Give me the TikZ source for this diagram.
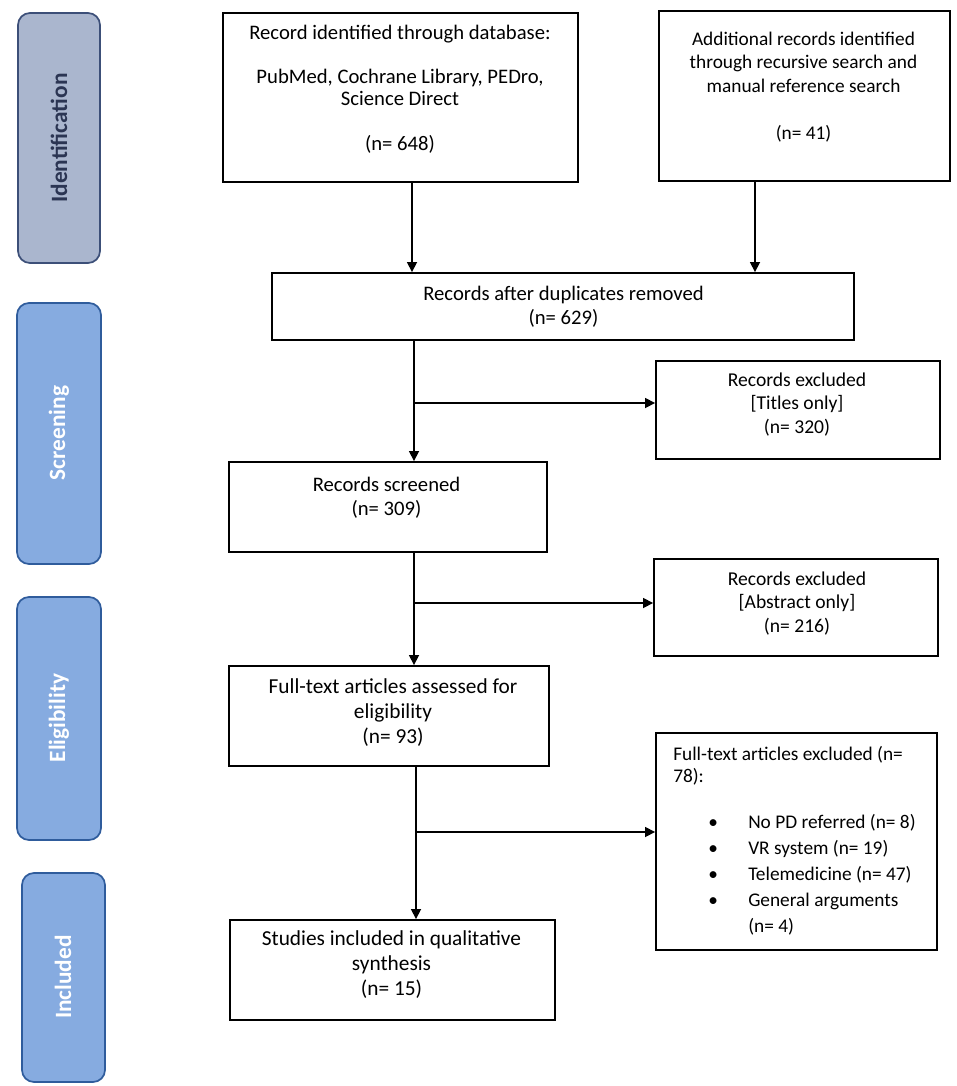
\documentclass[tikz,border=0pt]{standalone}
\usepackage{fontspec}
\setmainfont{Carlito}
\usetikzlibrary{arrows.meta,calc}
\definecolor{idfill}{HTML}{AAB6CE}
\definecolor{idline}{HTML}{3C4F78}
\definecolor{idtext}{HTML}{2B3553}
\definecolor{phfill}{HTML}{86ABE0}
\definecolor{phline}{HTML}{2F5C9C}
\tikzset{
  box/.style={draw=black, line width=1.4pt, rectangle, inner sep=0pt},
  txt/.style={inner sep=0pt, align=center, anchor=base, font=\fontsize{15.5}{17.6}\selectfont},
  atxt/.style={txt, font=\fontsize{15.5}{16.65}\selectfont},
  btxt/.style={txt, font=\fontsize{14.5}{17.6}\selectfont},
  smalltxt/.style={txt, font=\fontsize{14.7}{17.6}\selectfont},
  bigtxt/.style={txt, font=\fontsize{16}{18.4}\selectfont},
  ltxt/.style={inner sep=0pt, align=left, anchor=base west, font=\fontsize{14.5}{16.5}\selectfont},
  phase/.style={draw=phline, fill=phfill, line width=1.3pt, rounded corners=9pt},
  phasetxt/.style={inner sep=0pt, rotate=90, font=\fontsize{17.5}{20}\selectfont\bfseries, text=white},
  arr/.style={line width=1.2pt, -{Triangle[length=7.5pt,width=7.5pt]}},
}
\begin{document}
\begin{tikzpicture}[x=0.75pt,y=-0.75pt]
\useasboundingbox (0,0) rectangle (957,1086);
% phase labels
\draw[phase, draw=idline, fill=idfill] (18,13) rectangle (100,263);
\node[phasetxt, text=idtext] (pid) at (59,138) {Identification};
\draw[phase] (17,303) rectangle (101,564);
\node[phasetxt] (pscr) at (59,433) {Screening};
\draw[phase] (17,597) rectangle (101,840);
\node[phasetxt] (pel) at (59,718) {Eligibility};
\draw[phase] (22,873) rectangle (105,1082);
\node[phasetxt] (pinc) at (63,977) {Included};
% boxes
\node[box, minimum width=355*0.75pt, minimum height=169*0.75pt] (A) at (400.5,97.5) {};
\node[box, minimum width=291*0.75pt, minimum height=170*0.75pt] (B) at (804.5,96) {};
\node[box, minimum width=582*0.75pt, minimum height=67*0.75pt] (C) at (563,306.5) {};
\node[box, minimum width=284*0.75pt, minimum height=98*0.75pt] (D) at (798,410) {};
\node[box, minimum width=318*0.75pt, minimum height=90*0.75pt] (E) at (388,507) {};
\node[box, minimum width=284*0.75pt, minimum height=97*0.75pt] (F) at (796,607.5) {};
\node[box, minimum width=320*0.75pt, minimum height=100*0.75pt] (G) at (389,716) {};
\node[box, minimum width=281*0.75pt, minimum height=217*0.75pt] (H) at (796.5,841.5) {};
\node[box, minimum width=325*0.75pt, minimum height=100*0.75pt] (I) at (392.5,970) {};
% texts (anchor = baseline of last line)
\node[atxt] (tA) at (400,150) {Record identified through database:\\[16.65pt]PubMed, Cochrane Library, PEDro,\\Science Direct\\[16.65pt](n= 648)};
\node[btxt] (tB) at (803.5,139) {Additional records identified\\through recursive search and\\manual reference search\\[17.6pt](n= 41)};
\node[txt] (tC) at (563.5,324) {Records after duplicates removed\\(n= 629)};
\node[smalltxt] (tD) at (797,433) {Records excluded\\{[}Titles only{]}\\(n= 320)};
\node[txt] (tE) at (386.5,515) {Records screened\\(n= 309)};
\node[smalltxt] (tF) at (797,632) {Records excluded\\{[}Abstract only{]}\\(n= 216)};
\node[bigtxt] (tG) at (393,743) {Full-text articles assessed for\\eligibility\\(n= 93)};
\node[bigtxt] (tI) at (391.5,995) {Studies included in qualitative\\synthesis\\(n= 15)};
\node[ltxt] (tH) at (673,782) {Full-text articles excluded (n=\\78):};
\node[ltxt, font=\fontsize{14.5}{19.5}\selectfont] (tHb) at (708,932) {%
\makebox[30pt][l]{\textbullet}No PD referred (n= 8)\\
\makebox[30pt][l]{\textbullet}VR system (n= 19)\\
\makebox[30pt][l]{\textbullet}Telemedicine (n= 47)\\
\makebox[30pt][l]{\textbullet}General arguments\\
\makebox[30pt][l]{}(n= 4)};
% connectors
\coordinate (spA) at (412,0);
\coordinate (spB) at (755,0);
\coordinate (sp1) at (414,403);
\coordinate (sp2) at (414,603);
\coordinate (sp3) at (416,832);
\draw[arr] (A.south -| spA) -- (C.north -| spA);
\draw[arr] (B.south -| spB) -- (C.north -| spB);
\draw[arr] (C.south -| sp1) -- (E.north -| sp1);
\draw[arr] (sp1) -- (D.west |- sp1);
\draw[arr] (E.south -| sp2) -- (G.north -| sp2);
\draw[arr] (sp2) -- (F.west |- sp2);
\draw[arr] (G.south -| sp3) -- (I.north -| sp3);
\draw[arr] (sp3) -- (H.west |- sp3);
\end{tikzpicture}
\end{document}
